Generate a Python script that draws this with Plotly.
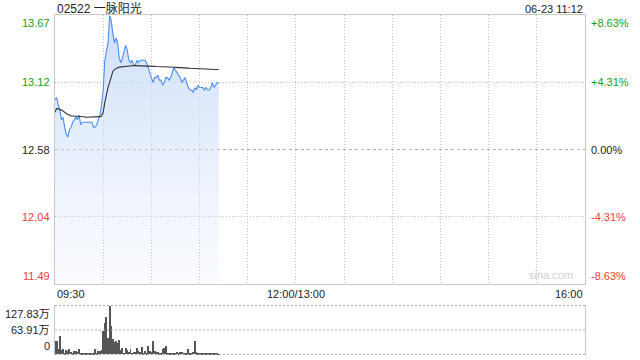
import plotly.graph_objects as go

# ---------------- data ----------------
title_text = "02522 一脉阳光"
stamp_text = "06-23 11:12"
prev_close = 12.58
pct_limit = 0.0863

price_ticks = [13.67, 13.12, 12.58, 12.04, 11.49]
pct_ticks = ["+8.63%", "+4.31%", "0.00%", "-4.31%", "-8.63%"]
time_tick_pos = [0, 150, 330]
time_tick_labels = ["09:30", "12:00/13:00", "16:00"]
vol_ticks = [127.83, 63.91, 0]
vol_tick_labels = ["127.83万", "63.91万", "0"]

minutes = list(range(103))
price = [12.98, 13.00, 12.94, 12.90, 12.82, 12.84, 12.76, 12.70, 12.68, 12.74,
         12.76, 12.80, 12.82, 12.84, 12.82, 12.86, 12.78, 12.80, 12.80, 12.80,
         12.80, 12.80, 12.80, 12.80, 12.76, 12.76, 12.78, 12.82, 12.86, 12.94,
         13.06, 13.30, 13.38, 13.44, 13.66, 13.62, 13.52, 13.44, 13.48, 13.44,
         13.32, 13.28, 13.32, 13.38, 13.42, 13.38, 13.30, 13.28, 13.30, 13.26,
         13.26, 13.30, 13.28, 13.30, 13.30, 13.30, 13.30, 13.28, 13.24, 13.20,
         13.16, 13.12, 13.16, 13.16, 13.18, 13.14, 13.14, 13.10, 13.12, 13.16,
         13.16, 13.14, 13.16, 13.20, 13.24, 13.22, 13.20, 13.18, 13.16, 13.12,
         13.14, 13.16, 13.12, 13.08, 13.06, 13.06, 13.04, 13.08, 13.06, 13.10,
         13.08, 13.08, 13.08, 13.06, 13.08, 13.06, 13.06, 13.08, 13.12, 13.08,
         13.10, 13.12, 13.12]
avg_price = [12.880, 12.910, 12.910, 12.900, 12.900, 12.890, 12.880, 12.870, 12.860, 12.860,
             12.850, 12.850, 12.850, 12.850, 12.850, 12.845, 12.845, 12.845, 12.845, 12.840,
             12.840, 12.840, 12.840, 12.840, 12.840, 12.840, 12.840, 12.840, 12.845, 12.850,
             12.880, 12.960, 13.030, 13.080, 13.120, 13.170, 13.210, 13.225, 13.235, 13.240,
             13.245, 13.247, 13.250, 13.252, 13.254, 13.255, 13.255, 13.256, 13.256, 13.257,
             13.257, 13.257, 13.257, 13.257, 13.257, 13.257, 13.256, 13.256, 13.255, 13.254,
             13.253, 13.252, 13.251, 13.250, 13.250, 13.249, 13.249, 13.248, 13.247, 13.246,
             13.246, 13.245, 13.245, 13.244, 13.244, 13.243, 13.243, 13.242, 13.241, 13.240,
             13.239, 13.239, 13.238, 13.237, 13.236, 13.235, 13.234, 13.233, 13.232, 13.231,
             13.230, 13.229, 13.229, 13.228, 13.228, 13.228, 13.227, 13.227, 13.227, 13.226,
             13.226, 13.226, 13.226]
volume = [36, 36, 15, 47, 12, 14, 5, 12, 10, 15,
          6, 4, 10, 8, 6, 13, 5, 3, 2, 3,
          2, 3, 2, 4, 2, 13, 4, 8, 10, 12,
          61, 82, 98, 43, 127.83, 75, 40, 32, 34, 30,
          38, 11, 16, 5, 17, 11, 7, 13, 4, 6,
          7, 18, 10, 6, 20, 4, 9, 3, 21, 8,
          7, 34, 8, 7, 7, 4, 5, 13, 18, 22,
          4, 3, 5, 2, 3, 4, 7, 3, 7, 7,
          3, 5, 3, 13, 2, 5, 6, 34, 7, 3,
          4, 2, 3, 4, 2, 3, 2, 3, 2, 3,
          2, 2, 1]

# ---------------- styling ----------------
FONT = "Liberation Sans, Arial, Noto Sans CJK SC, sans-serif"
GREEN = "#14a014"
RED = "#f23b3b"
GRID = "#bdbdbd"
BORDER = "#c8c8c8"
DOT = "1px,2px"

y_top = prev_close * (1 + pct_limit)
y_bot = prev_close * (1 - pct_limit)
vol_max = max(volume)
vol_pad = vol_max * 0.012

fig = go.Figure()

fig.add_trace(go.Scatter(
    x=minutes, y=price, mode="lines",
    line=dict(color="#4a8ef2", width=1.1),
    fill="tozeroy",
    fillgradient=dict(type="vertical",
                      colorscale=[[0, "rgba(220,232,252,0.15)"], [1, "rgba(196,215,248,0.85)"]],
                      start=y_bot, stop=y_top),
    xaxis="x", yaxis="y", hoverinfo="skip", showlegend=False))

fig.add_trace(go.Scatter(
    x=minutes, y=avg_price, mode="lines",
    line=dict(color="#333333", width=1.1),
    xaxis="x", yaxis="y", hoverinfo="skip", showlegend=False))

# dotted volume grid lines (drawn as a trace on the volume axes)
grid_levels = [0, vol_max / 2, vol_max]
gx, gy = [], []
for v in grid_levels:
    gx += [0, 330, None]
    gy += [v, v, None]
fig.add_trace(go.Scatter(
    x=gx, y=gy, mode="lines", connectgaps=False,
    line=dict(color="#a8a8a8", width=1, dash="2px,2px"),
    xaxis="x2", yaxis="y2", hoverinfo="skip", showlegend=False))

fig.add_trace(go.Bar(
    x=minutes, y=volume, width=0.6,
    marker=dict(color="#555555", line=dict(width=0)),
    xaxis="x2", yaxis="y2", hoverinfo="skip", showlegend=False))

# dashed line at previous close
fig.add_shape(type="line", xref="x", yref="y", x0=0, x1=330, y0=prev_close, y1=prev_close,
              line=dict(color="#b0b0b0", width=1, dash="3px,3px"), layer="below")

annotations = []
tick_colors = [GREEN, GREEN, "#222222", RED, RED]
anchors = ["top", "middle", "middle", "middle", "bottom"]
tick_yvals = [y_top, prev_close * (1 + pct_limit / 2), prev_close,
              prev_close * (1 - pct_limit / 2), y_bot]
for val, lab, pl, col, anc in zip(tick_yvals, price_ticks, pct_ticks, tick_colors, anchors):
    annotations.append(dict(x=0, xref="paper", y=val, yref="y", text=f"{lab:.2f}",
                            xanchor="right", yanchor=anc, xshift=-3, showarrow=False,
                            font=dict(family=FONT, size=11, color=col)))
    annotations.append(dict(x=1, xref="paper", y=val, yref="y", text=pl,
                            xanchor="left", yanchor=anc, xshift=4, showarrow=False,
                            font=dict(family=FONT, size=11, color=col)))

x_anchors = ["left", "center", "right"]
for pos, lab, anc in zip(time_tick_pos, time_tick_labels, x_anchors):
    annotations.append(dict(x=pos, xref="x", y=y_bot, yref="y", text=lab,
                            xanchor=anc, yanchor="top", yshift=-2, showarrow=False,
                            font=dict(family=FONT, size=11, color="#222222")))

v_anchors = ["top", "middle", "bottom"]
for val, lab, anc in zip(vol_ticks, vol_tick_labels, v_anchors):
    annotations.append(dict(x=0, xref="paper", y=val, yref="y2", text=lab,
                            xanchor="right", yanchor=anc, xshift=-3, showarrow=False,
                            font=dict(family=FONT, size=11, color="#222222")))

annotations.append(dict(x=0, xref="paper", y=1, yref="paper", text=title_text,
                        xanchor="left", yanchor="bottom", yshift=-3, showarrow=False,
                        font=dict(family=FONT, size=12, color="#222222")))
annotations.append(dict(x=1, xref="paper", y=1, yref="paper", text=stamp_text,
                        xanchor="right", yanchor="bottom", yshift=-2, showarrow=False,
                        font=dict(family=FONT, size=11, color="#222222")))
annotations.append(dict(x=1, xref="paper", y=y_bot, yref="y", text="sina.com",
                        xanchor="right", yanchor="bottom", xshift=-10, yshift=1, showarrow=False,
                        font=dict(family=FONT, size=11, color="#cfcfcf")))

fig.update_layout(
    width=640, height=360,
    margin=dict(l=55, r=55, t=15, b=5),
    paper_bgcolor="white", plot_bgcolor="white",
    bargap=0,
    annotations=annotations,
    xaxis=dict(domain=[0, 1], range=[0, 330], tickmode="array", tickvals=[30 * i for i in range(12)],
               showticklabels=False, showgrid=True, gridcolor=GRID, griddash=DOT, gridwidth=1,
               showline=True, linecolor=BORDER, linewidth=1, mirror=True, zeroline=False,
               anchor="y", fixedrange=True),
    yaxis=dict(domain=[0.2088, 1], range=[y_bot, y_top], tickmode="array",
               tickvals=[tick_yvals[1], tick_yvals[3]],
               showticklabels=False, showgrid=True, gridcolor=GRID, griddash=DOT, gridwidth=1,
               showline=True, linecolor=BORDER, linewidth=1, mirror=True, zeroline=False,
               anchor="x", fixedrange=True),
    xaxis2=dict(domain=[0, 1], range=[0, 330], showticklabels=False, showgrid=False,
                showline=False, zeroline=False, anchor="y2", fixedrange=True),
    yaxis2=dict(domain=[0, 0.1471], range=[-vol_pad, vol_max + vol_pad], showticklabels=False,
                showgrid=False, showline=True, linecolor=BORDER, linewidth=1, mirror=True,
                zeroline=False, anchor="x2", fixedrange=True),
)

fig.write_html("out.html")
